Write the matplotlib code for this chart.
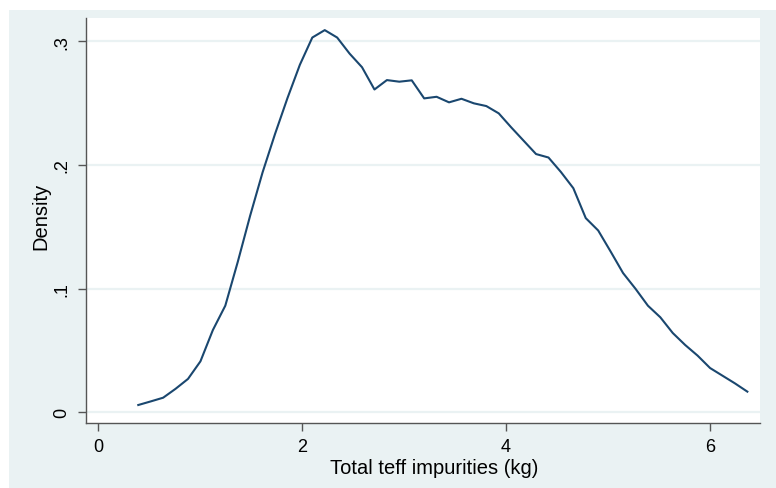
import matplotlib
matplotlib.use("Agg")
import matplotlib.pyplot as plt
import numpy as np
from matplotlib.patches import Rectangle

# Kernel density estimate evaluated at 50 points
x_start, x_end, n_points = 0.395, 6.366, 50
density = [0.0059, 0.0088, 0.0118, 0.0190, 0.0270, 0.0412, 0.0665, 0.0862, 0.1215, 0.1590,
           0.1940, 0.2250, 0.2540, 0.2810, 0.3030, 0.3090, 0.3030, 0.2900, 0.2790, 0.2610,
           0.2686, 0.2673, 0.2684, 0.2538, 0.2551, 0.2506, 0.2535, 0.2498, 0.2476, 0.2417,
           0.2304, 0.2196, 0.2088, 0.2060, 0.1943, 0.1812, 0.1570, 0.1470, 0.1300, 0.1126,
           0.0999, 0.0862, 0.0768, 0.0641, 0.0544, 0.0458, 0.0358, 0.0296, 0.0234, 0.0167]
x_ticks = [0, 2, 4, 6]
x_ticklabels = ["0", "2", "4", "6"]
y_ticks = [0, 0.1, 0.2, 0.3]
y_ticklabels = ["0", ".1", ".2", ".3"]

xs = np.linspace(x_start, x_end, n_points)

plt.rcParams['font.family'] = ['Liberation Sans', 'DejaVu Sans']

W, H = 776, 489
bg = '#EAF2F3'
fig = plt.figure(figsize=(W / 100, H / 100), dpi=100, facecolor='white')
fig.patches.append(Rectangle((9 / W, 0), 1 - 9 / W, (H - 11) / H,
                             transform=fig.transFigure, facecolor=bg,
                             edgecolor='none', zorder=-10))

ax = fig.add_axes([86 / W, (H - 424) / H, (760 - 86) / W, (424 - 19) / H])
ax.set_zorder(5)
ax.set_facecolor('white')
ax.plot(xs, density, color='#1A476F', lw=1.5, zorder=3)

ax.set_xlim(-0.1176, 6.49)
ax.set_ylim(-0.00865, 0.3188)

ax.set_xticks(x_ticks)
ax.set_xticklabels(x_ticklabels)
ax.set_yticks(y_ticks)
ax.set_yticklabels(y_ticklabels, rotation=90, va='center')

ax.grid(axis='y', color=bg, lw=1.6, zorder=1)
ax.grid(axis='x', visible=False)
for s in ['top', 'right']:
    ax.spines[s].set_visible(False)
for s in ['left', 'bottom']:
    ax.spines[s].set_color('#555555')
    ax.spines[s].set_linewidth(1.0)

ax.tick_params(axis='both', direction='out', length=6, width=1.0, color='#555555',
               labelsize=13, labelcolor='black', pad=5)

ax.set_xlabel('Total teff impurities (kg)', fontsize=14.5)
ax.set_ylabel('Density', fontsize=14.5)
ax.xaxis.label.set_va('center')
ax.yaxis.label.set_va('center')
ax.xaxis.set_label_coords((434 - 86) / 674, (424 - 469) / 405)
ax.yaxis.set_label_coords((40.5 - 86) / 674, (424 - 216) / 405)

fig.savefig('out.png', dpi=100, facecolor=fig.get_facecolor())
